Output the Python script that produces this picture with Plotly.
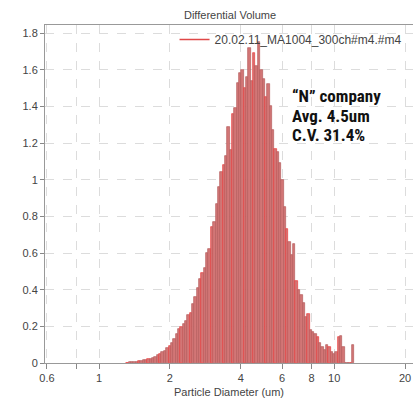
import numpy as np
import plotly.graph_objects as go

# Channel index (100 channels per decade, centre diameter = 10**(k/100) um)
channel_k = list(range(12, 109))
volume = [
    0.002, 0.003, 0.004, 0.006, 0.008, 0.010, 0.012, 0.014, 0.017, 0.020,
    0.024, 0.030, 0.035, 0.042, 0.050, 0.058, 0.068, 0.080, 0.095, 0.110,
    0.130, 0.160, 0.185, 0.195, 0.215, 0.230, 0.260, 0.275, 0.320, 0.360,
    0.410, 0.460, 0.490, 0.520, 0.600, 0.620, 0.740, 0.770, 0.870, 0.960,
    1.040, 1.080, 1.130, 1.290, 1.160, 1.360, 1.390, 1.530, 1.580, 1.600,
    1.500, 1.560, 1.720, 1.540, 1.690, 1.620, 1.750, 1.600, 1.550, 1.450,
    1.520, 1.400, 1.270, 1.170, 1.150, 1.090, 1.000, 0.850, 0.730, 0.660,
    0.590, 0.650, 0.450, 0.400, 0.370, 0.330, 0.250, 0.270, 0.180, 0.170,
    0.160, 0.140, 0.110, 0.090, 0.070, 0.100, 0.090, 0.060, 0.050, 0.060,
    0.140, 0.150, 0.090, 0.000, 0.000, 0.000, 0.100,
]
x_tick_labels = [0.6, 0.8, 1, 2, 4, 6, 8, 10, 20]
x_tick_text = ["0.6", "", "1", "2", "4", "6", "8", "10", "20"]
series_name = "20.02.11_MA1004_300ch#m4.#m4"
note_lines = ["\u201cN\u201d company", "Avg. 4.5um", "C.V. 31.4%"]

logd = [k / 100 for k in channel_k]
line_cols = ["#ee3b3b" if (i % 9 in (0, 5)) else "#b45c5c" for i in range(len(channel_k))]

fig = go.Figure()
fig.add_trace(go.Bar(
    x=logd, y=volume, width=0.01,
    marker=dict(color="#d27676", line=dict(color=line_cols, width=0.7)),
    showlegend=False,
))
fig.add_trace(go.Scatter(
    x=[None], y=[None], mode="lines", name=series_name,
    line=dict(color="#e04848", width=1.5),
))

note_y_px = [96, 115.5, 134.5]
annotations = [
    dict(
        xref="paper", yref="paper", x=(291 - 45) / 368, y=(363 - ypx) / 338,
        xanchor="left", yanchor="middle", align="left", valign="middle",
        showarrow=False, height=19, borderpad=0,
        text=line,
        font=dict(family="Liberation Sans Narrow, Roboto Condensed, Roboto, sans-serif",
                  size=17, color="#111", weight="bold"),
    )
    for line, ypx in zip(note_lines, note_y_px)
]

fig.update_layout(
    width=413, height=406,
    margin=dict(l=45, r=0, t=25, b=43, autoexpand=False),
    paper_bgcolor="white", plot_bgcolor="white",
    bargap=0,
    font=dict(family="Liberation Sans, Arial, sans-serif", size=11, color="#444"),
    title=dict(text="Differential Volume", x=0.557, xanchor="center",
               y=1 - 15 / 406, yanchor="middle",
               font=dict(size=11, color="#444")),
    legend=dict(x=0.352, y=1.0, xanchor="left", yanchor="top",
                bgcolor="rgba(0,0,0,0)", font=dict(size=12, color="#444"),
                itemwidth=30),
    xaxis=dict(
        automargin=False,
        range=[-0.2303, 1.335],
        tickmode="array", tickvals=[float(np.log10(v)) for v in x_tick_labels],
        ticktext=x_tick_text,
        ticks="outside", ticklen=5, tickcolor="#888",
        showgrid=True, gridcolor="#dcdcdc", griddash="dash", gridwidth=1,
        showline=True, linecolor="#999", mirror=True,
        zeroline=False,
        title=dict(text="Particle Diameter (um)", standoff=5,
                   font=dict(size=11, color="#444")),
    ),
    yaxis=dict(
        automargin=False,
        range=[0, 1.844], dtick=0.2, tick0=0,
        ticks="outside", ticklen=4, tickcolor="#888",
        showgrid=True, gridcolor="#dcdcdc", griddash="dash", gridwidth=1,
        showline=True, linecolor="#999", mirror=True,
        zeroline=False,
    ),
    annotations=annotations,
)

fig.write_html(
    "out.html",
    config={"displayModeBar": False},
    post_script="document.body.style.margin='0';document.body.style.overflow='hidden';",
)
